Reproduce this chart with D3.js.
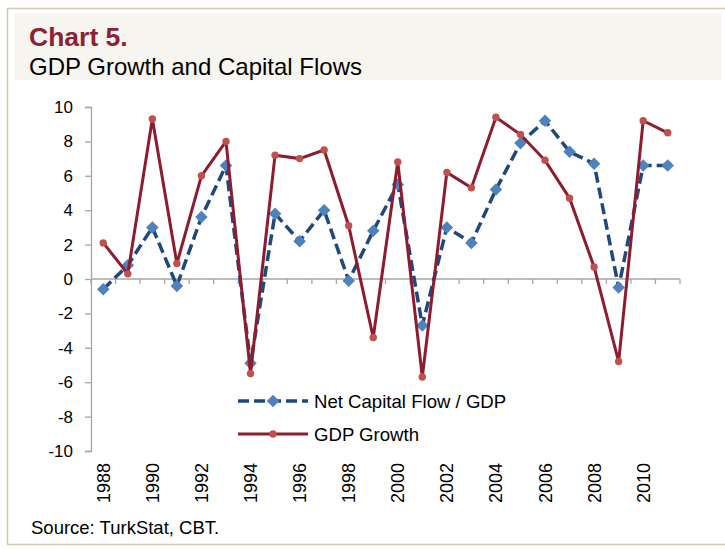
<!DOCTYPE html>
<html>
<head>
<meta charset="utf-8">
<script src="https://cdn.jsdelivr.net/npm/d3@7"></script>
<style>
  body { margin: 0; background: #fff; }
  text { font-family: "Liberation Sans", Arial, sans-serif; fill: #000; }
</style>
</head>
<body>
<div id="chart"></div>
<script>
var years = [1988, 1989, 1990, 1991, 1992, 1993, 1994, 1995, 1996, 1997, 1998, 1999,
             2000, 2001, 2002, 2003, 2004, 2005, 2006, 2007, 2008, 2009, 2010, 2011];
var netCapitalFlow = [-0.6, 0.8, 3.0, -0.4, 3.6, 6.6, -4.9, 3.8, 2.2, 4.0, -0.1, 2.8,
                      5.5, -2.7, 3.0, 2.1, 5.2, 7.9, 9.2, 7.4, 6.7, -0.5, 6.6, 6.6];
var gdpGrowth = [2.1, 0.3, 9.3, 0.9, 6.0, 8.0, -5.5, 7.2, 7.0, 7.5, 3.1, -3.4,
                 6.8, -5.7, 6.2, 5.3, 9.4, 8.4, 6.9, 4.7, 0.7, -4.8, 9.2, 8.5];
var yTicks = [-10, -8, -6, -4, -2, 0, 2, 4, 6, 8, 10];
var xLabelYears = [1988, 1990, 1992, 1994, 1996, 1998, 2000, 2002, 2004, 2006, 2008, 2010];
var seriesNames = ["Net Capital Flow / GDP", "GDP Growth"];

var width = 725, height = 549;
var plot = { left: 91, right: 680, top: 107, bottom: 451 };

var svg = d3.select("#chart").append("svg")
    .attr("width", width)
    .attr("height", height);

// frame and header
svg.append("path")
    .attr("d", "M725,8.5 H7.5 V544.5 H725")
    .attr("fill", "none")
    .attr("stroke", "#d6c9b1")
    .attr("stroke-width", 1.5);
svg.append("rect")
    .attr("x", 14).attr("y", 13)
    .attr("width", 707).attr("height", 67)
    .attr("fill", "#f7f5f0");
svg.append("text")
    .attr("x", 29).attr("y", 46)
    .style("font-size", "26.5px")
    .style("font-weight", "bold")
    .style("fill", "#8c2233")
    .text("Chart 5.");
svg.append("text")
    .attr("x", 29).attr("y", 75)
    .style("font-size", "24px")
    .text("GDP Growth and Capital Flows");

var xScale = d3.scaleBand()
    .domain(years)
    .range([plot.left, plot.right]);
var yScale = d3.scaleLinear()
    .domain([-10, 10])
    .range([plot.bottom, plot.top]);

function cx(d) { return xScale(d) + xScale.bandwidth() / 2; }

// y axis
var yAxis = svg.append("g")
    .attr("transform", "translate(" + plot.left + ",0)")
    .call(d3.axisLeft(yScale).tickValues(yTicks).tickSize(6).tickPadding(12)
        .tickFormat(function(d) { return d < 0 ? "-" + Math.abs(d) : d; }));
yAxis.select(".domain").attr("stroke", "#a6a6a6").attr("stroke-width", 1.3);
yAxis.selectAll(".tick line").attr("stroke", "#a6a6a6").attr("stroke-width", 1.3);
yAxis.selectAll(".tick text").style("font-size", "17px").style("font-family", "Liberation Sans, Arial, sans-serif");

// x axis line at zero with boundary ticks
var boundaries = years.map(function(d) { return xScale(d); }).concat([plot.right]);
svg.append("line")
    .attr("x1", plot.left).attr("x2", plot.right)
    .attr("y1", yScale(0)).attr("y2", yScale(0))
    .attr("stroke", "#a6a6a6").attr("stroke-width", 1.3);
svg.selectAll(".xtick")
    .data(boundaries)
    .enter().append("line")
    .attr("class", "xtick")
    .attr("x1", function(d) { return d; })
    .attr("x2", function(d) { return d; })
    .attr("y1", yScale(0))
    .attr("y2", yScale(0) + 5)
    .attr("stroke", "#a6a6a6").attr("stroke-width", 1.3);

// x labels at bottom, rotated
var xAxis = svg.append("g")
    .attr("transform", "translate(0," + plot.bottom + ")")
    .call(d3.axisBottom(xScale).tickValues(xLabelYears).tickSize(0));
xAxis.select(".domain").remove();
xAxis.selectAll(".tick text")
    .attr("transform", "rotate(-90)")
    .attr("x", -12)
    .attr("y", 0)
    .attr("dy", "0.36em")
    .attr("text-anchor", "end")
    .style("font-size", "18px")
    .style("font-family", "Liberation Sans, Arial, sans-serif");

// series
var seriesLine = d3.line()
    .x(function(d, i) { return cx(years[i]); })
    .y(function(d) { return yScale(d); });

svg.append("path")
    .datum(netCapitalFlow)
    .attr("d", seriesLine)
    .attr("fill", "none")
    .attr("stroke", "#1f497d")
    .attr("stroke-width", 3.5)
    .attr("stroke-dasharray", "11,5");

var diamond = d3.symbol().type(d3.symbolDiamond2).size(100);
svg.selectAll(".dia")
    .data(netCapitalFlow)
    .enter().append("path")
    .attr("class", "dia")
    .attr("d", diamond)
    .attr("transform", function(d, i) { return "translate(" + cx(years[i]) + "," + yScale(d) + ")"; })
    .attr("fill", "#4f81bd");

svg.append("path")
    .datum(gdpGrowth)
    .attr("d", seriesLine)
    .attr("fill", "none")
    .attr("stroke", "#8c1c2e")
    .attr("stroke-width", 3);

svg.selectAll(".dot")
    .data(gdpGrowth)
    .enter().append("circle")
    .attr("class", "dot")
    .attr("cx", function(d, i) { return cx(years[i]); })
    .attr("cy", function(d) { return yScale(d); })
    .attr("r", 3.7)
    .attr("fill", "#c0504d");

// legend
var legend = svg.append("g").attr("transform", "translate(238,401)");
legend.append("line")
    .attr("x1", 0).attr("x2", 70).attr("y1", 0).attr("y2", 0)
    .attr("stroke", "#1f497d").attr("stroke-width", 3.5)
    .attr("stroke-dasharray", "11,5");
legend.append("path")
    .attr("d", diamond)
    .attr("transform", "translate(35,0)")
    .attr("fill", "#4f81bd");
legend.append("text")
    .attr("x", 76).attr("y", 0).attr("dy", "0.35em")
    .style("font-size", "18.6px")
    .text(seriesNames[0]);
legend.append("line")
    .attr("x1", 0).attr("x2", 70).attr("y1", 33).attr("y2", 33)
    .attr("stroke", "#8c1c2e").attr("stroke-width", 3);
legend.append("circle")
    .attr("cx", 35).attr("cy", 33).attr("r", 3.7)
    .attr("fill", "#c0504d");
legend.append("text")
    .attr("x", 76).attr("y", 33).attr("dy", "0.35em")
    .style("font-size", "18.6px")
    .text(seriesNames[1]);

// source
svg.append("text")
    .attr("x", 31).attr("y", 534)
    .style("font-size", "18.5px")
    .text("Source: TurkStat, CBT.");
</script>
</body>
</html>
